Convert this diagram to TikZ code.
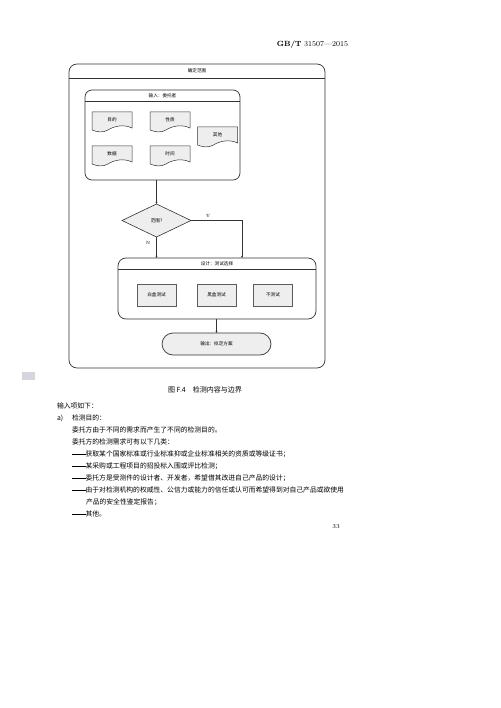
\documentclass[tikz,border=0pt]{standalone}
\usepackage{fontspec}
\newfontfamily\cjk{Noto Sans CJK SC}
\usetikzlibrary{shapes.geometric,arrows.meta}
\definecolor{ln}{HTML}{333333}
\definecolor{fl}{HTML}{EEEEEE}
\newcommand{\ldash}{\rule[2.3pt]{13.6pt}{0.45pt}}
\begin{document}
\begin{tikzpicture}[x=1pt,y=-1pt,
  every node/.style={inner sep=0pt,outer sep=0pt},
  frame/.style={draw=ln,line width=0.7pt,rounded corners=8pt},
  ttl/.style={font=\cjk\fontsize{4.6}{5}\selectfont},
  dlab/.style={font=\cjk\fontsize{4.6}{5}\selectfont},
  tbox/.style={draw=ln!80,line width=0.9pt,fill=fl,minimum width=39pt,minimum height=22pt,font=\cjk\fontsize{4.6}{5}\selectfont},
  doclab/.style={minimum width=40pt,minimum height=17pt,font=\cjk\fontsize{4.6}{5}\selectfont},
  wave/.style={draw=ln,line width=0.5pt,fill=fl},
  conn/.style={draw=ln,line width=0.5pt,-{Stealth[length=2.2pt,width=2pt]}},
  body/.style={anchor=west,font=\cjk\fontsize{6.8}{8}\selectfont},
]
\useasboundingbox (0,0) rectangle (500,708);
\fill[white] (0,0) rectangle (500,708);

% header
\node[anchor=east,font=\fontsize{7.5}{9}\selectfont] (hdr) at (348,45) {\textbf{GB/T} 31507\textemdash2015};

% outer frame
\node[frame,minimum width=256pt,minimum height=304pt] (outer) at (197,216) {};
\node[ttl] (outt) at (197,71) {确定范围};
\draw[ln,line width=0.5pt] (outer.west |- 0,78) -- (outer.east |- 0,78);

% input box
\node[frame,rounded corners=7pt,minimum width=155pt,minimum height=90pt] (ib) at (162.5,135) {};
\node[ttl] (ibt) at (162.5,95.5) {输入：委托者};
\draw[ln,line width=0.5pt] (ib.west |- 0,101) -- (ib.east |- 0,101);

% document shapes
\foreach \n/\cx/\cy/\t in {d1/112/121/目的, d2/170/121/性质, d3/217.5/136/其他, d4/112/155/数据, d5/170/155/时间}{
  \path[wave] (\cx-20,\cy-9) -- (\cx+20,\cy-9) -- (\cx+20,\cy+7)
     .. controls (\cx+12,\cy+3) and (\cx+2,\cy+5) .. (\cx-4,\cy+9)
     .. controls (\cx-9,\cy+12) and (\cx-15,\cy+11) .. (\cx-20,\cy+9) -- cycle;
  \node[doclab] (\n) at (\cx,\cy-1.5) {\t};
}

% decision
\node[diamond,draw=ln,line width=0.6pt,fill=fl,minimum width=69pt,minimum height=33pt,aspect=2,dlab] (dec) at (156.5,220.5) {范围?};
\node[font=\fontsize{4.5}{5}\selectfont] (ylab) at (208,216) {Y};
\node[font=\fontsize{4.5}{5}\selectfont] (nlab) at (148,242.5) {N};

% middle box
\node[frame,minimum width=198pt,minimum height=61pt] (mid) at (217,288.5) {};
\node[ttl] (midt) at (217,264) {设计：测试选择};
\draw[ln,line width=0.5pt] (mid.west |- 0,269.5) -- (mid.east |- 0,269.5);
\coordinate (yt) at (242,258);

\node[tbox] (t1) at (156.5,295) {白盒测试};
\node[tbox] (t2) at (216.5,295) {黑盒测试};
\node[tbox] (t3) at (273,295) {不测试};

% terminal
\node[draw=ln,line width=0.7pt,fill=fl,rounded corners=11pt,minimum width=109pt,minimum height=22pt,ttl] (term) at (216.5,344) {输出：拟定方案};

% connectors
\draw[conn] (dec.north |- ib.south) -- (dec.north);
\draw[conn] (dec.east) -| (yt);
\draw[conn] (dec.south) -- (dec.south |- mid.north);
\draw[conn] (term.north |- mid.south) -- (term.north);

% small mark
\fill[blue!10!gray!30] (22,372) rectangle (35,380);

% caption and text
\node[font=\cjk\fontsize{7}{8}\selectfont] (cap) at (205,390) {图 F.4\hspace{1em}检测内容与边界};
\node[body] (l1) at (57,406) {输入项如下：};
\node[body] (l2a) at (57,418) {a)};
\node[body] (l2) at (72,418) {检测目的：};
\node[body] (l3) at (72,430) {委托方由于不同的需求而产生了不同的检测目的。};
\node[body] (l4) at (72,442) {委托方的检测需求可有以下几类：};
\node[body] (l5) at (72,454) {\ldash 获取某个国家标准或行业标准抑或企业标准相关的资质或等级证书；};
\node[body] (l6) at (72,466) {\ldash 某采购或工程项目的招投标入围或评比检测；};
\node[body] (l7) at (72,478) {\ldash 委托方是受测件的设计者、开发者，希望借其改进自己产品的设计；};
\node[body] (l8) at (72,490) {\ldash 由于对检测机构的权威性、公信力或能力的信任或认可而希望得到对自己产品或欲使用};
\node[body] (l9) at (86,502) {产品的安全性鉴定报告；};
\node[body] (l10) at (72,514) {\ldash 其他。};
\node[font=\fontsize{6}{7}\selectfont] (pg) at (336,527) {33};
\end{tikzpicture}
\end{document}
